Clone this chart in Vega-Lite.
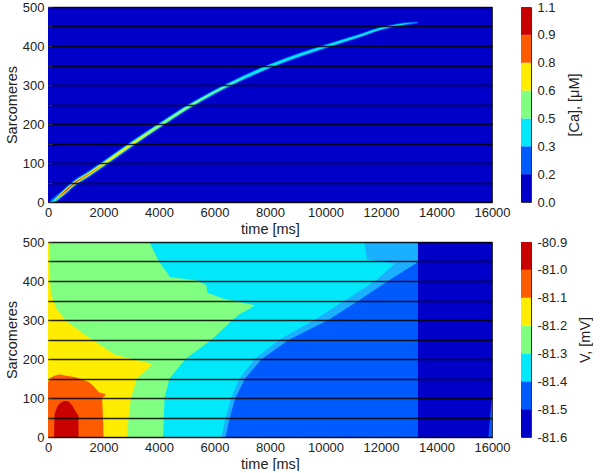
{
  "$schema": "https://vega.github.io/schema/vega-lite/v6.json",
  "padding": {"left": 3, "top": 0, "right": 0, "bottom": 0},
  "spacing": -1,
  "datasets": {
    "ca": [
      {"g":0,"c":0,"x":0,"lo":0,"hi":500},{"g":0,"c":0,"x":16000,"lo":0,"hi":500},
      {"g":1,"c":1,"x":50,"lo":0,"hi":1},{"g":1,"c":1,"x":100,"lo":0,"hi":5},{"g":1,"c":1,"x":200,"lo":0,"hi":12},
      {"g":1,"c":1,"x":500,"lo":11,"hi":29},{"g":1,"c":1,"x":950,"lo":39,"hi":57},{"g":1,"c":1,"x":1500,"lo":64,"hi":82},
      {"g":1,"c":1,"x":2050,"lo":91,"hi":109},{"g":1,"c":1,"x":3050,"lo":141,"hi":159},{"g":1,"c":1,"x":4100,"lo":192,"hi":208},
      {"g":1,"c":1,"x":5200,"lo":243,"hi":257},{"g":1,"c":1,"x":6500,"lo":293.5,"hi":306.5},{"g":1,"c":1,"x":8050,"lo":344,"hi":356},
      {"g":1,"c":1,"x":10050,"lo":394.5,"hi":405.5},{"g":1,"c":1,"x":11300,"lo":423,"hi":433},{"g":1,"c":1,"x":12000,"lo":440.5,"hi":449.5},
      {"g":1,"c":1,"x":12600,"lo":450,"hi":458},{"g":1,"c":1,"x":13000,"lo":454.5,"hi":461.5},{"g":1,"c":1,"x":13300,"lo":457.5,"hi":462.5},
      {"g":1,"c":1,"x":13350,"lo":460,"hi":460.5},
      {"g":2,"c":2,"x":100,"lo":0,"hi":0.5},{"g":2,"c":2,"x":200,"lo":0,"hi":6},{"g":2,"c":2,"x":500,"lo":14,"hi":26},
      {"g":2,"c":2,"x":950,"lo":42,"hi":54},{"g":2,"c":2,"x":1500,"lo":67,"hi":79},{"g":2,"c":2,"x":2050,"lo":94,"hi":106},
      {"g":2,"c":2,"x":3050,"lo":144,"hi":156},{"g":2,"c":2,"x":4100,"lo":195,"hi":205},{"g":2,"c":2,"x":5200,"lo":245.5,"hi":254.5},
      {"g":2,"c":2,"x":6500,"lo":296,"hi":304},{"g":2,"c":2,"x":8050,"lo":346,"hi":354},{"g":2,"c":2,"x":10050,"lo":396.5,"hi":403.5},
      {"g":2,"c":2,"x":11300,"lo":425,"hi":431},{"g":2,"c":2,"x":12000,"lo":442.5,"hi":447.5},{"g":2,"c":2,"x":12600,"lo":452,"hi":456},
      {"g":2,"c":2,"x":13000,"lo":456.8,"hi":459.2},{"g":2,"c":2,"x":13300,"lo":460,"hi":460.2},
      {"g":3,"c":3,"x":200,"lo":3,"hi":3.2},{"g":3,"c":3,"x":500,"lo":15.5,"hi":24.5},{"g":3,"c":3,"x":950,"lo":43.5,"hi":52.5},
      {"g":3,"c":3,"x":1500,"lo":68.5,"hi":77.5},{"g":3,"c":3,"x":2050,"lo":95.5,"hi":104.5},{"g":3,"c":3,"x":3050,"lo":145.5,"hi":154.5},
      {"g":3,"c":3,"x":4100,"lo":196,"hi":204},{"g":3,"c":3,"x":5200,"lo":247,"hi":253},{"g":3,"c":3,"x":6500,"lo":298.5,"hi":301.5},
      {"g":3,"c":3,"x":7200,"lo":323,"hi":323.2},
      {"g":4,"c":4,"x":300,"lo":8,"hi":8.2},{"g":4,"c":4,"x":500,"lo":17,"hi":23},{"g":4,"c":4,"x":950,"lo":45,"hi":51},
      {"g":4,"c":4,"x":1500,"lo":70,"hi":76},{"g":4,"c":4,"x":2050,"lo":97,"hi":103},{"g":4,"c":4,"x":3050,"lo":147.5,"hi":152.5},
      {"g":4,"c":4,"x":3500,"lo":169.5,"hi":172.5},{"g":4,"c":4,"x":4100,"lo":200,"hi":200.2},
      {"g":5,"c":5,"x":300,"lo":8,"hi":8.2},{"g":5,"c":5,"x":500,"lo":18.2,"hi":21.8},{"g":5,"c":5,"x":950,"lo":46,"hi":50},
      {"g":5,"c":5,"x":1500,"lo":71.5,"hi":74.5},{"g":5,"c":5,"x":2050,"lo":100,"hi":100.2},
      {"g":6,"c":6,"x":500,"lo":20,"hi":20.1},{"g":6,"c":6,"x":700,"lo":31.2,"hi":32.8},{"g":6,"c":6,"x":950,"lo":47.2,"hi":48.8},
      {"g":6,"c":6,"x":1200,"lo":60,"hi":60.1}
    ],
    "v": [
      {"g":0,"c":0,"y":0,"xl":0,"xr":16000},{"g":0,"c":0,"y":500,"xl":0,"xr":16000},
      {"g":1,"c":1,"y":0,"xl":0,"xr":13330},{"g":1,"c":1,"y":500,"xl":0,"xr":13330},
      {"g":2,"c":1,"y":0,"xl":15870,"xr":16000},{"g":2,"c":1,"y":50,"xl":15930,"xr":16000},{"g":2,"c":1,"y":100,"xl":15995,"xr":16000},
      {"g":3,"c":7,"y":0,"xl":0,"xr":6400},{"g":3,"c":7,"y":50,"xl":0,"xr":6550},{"g":3,"c":7,"y":100,"xl":0,"xr":6750},
      {"g":3,"c":7,"y":150,"xl":0,"xr":7100},{"g":3,"c":7,"y":200,"xl":0,"xr":7700},{"g":3,"c":7,"y":250,"xl":0,"xr":8700},
      {"g":3,"c":7,"y":300,"xl":0,"xr":10100},{"g":3,"c":7,"y":350,"xl":0,"xr":11200},{"g":3,"c":7,"y":400,"xl":0,"xr":12250},
      {"g":3,"c":7,"y":445,"xl":0,"xr":13250},{"g":3,"c":7,"y":450,"xl":0,"xr":13330},{"g":3,"c":7,"y":500,"xl":0,"xr":13330},
      {"g":4,"c":2,"y":0,"xl":0,"xr":6250},{"g":4,"c":2,"y":50,"xl":0,"xr":6400},{"g":4,"c":2,"y":100,"xl":0,"xr":6600},
      {"g":4,"c":2,"y":150,"xl":0,"xr":6900},{"g":4,"c":2,"y":200,"xl":0,"xr":7450},{"g":4,"c":2,"y":250,"xl":0,"xr":8350},
      {"g":4,"c":2,"y":300,"xl":0,"xr":9600},{"g":4,"c":2,"y":350,"xl":0,"xr":10700},{"g":4,"c":2,"y":400,"xl":0,"xr":11800},
      {"g":4,"c":2,"y":445,"xl":0,"xr":12500},{"g":4,"c":2,"y":455,"xl":0,"xr":11500},{"g":4,"c":2,"y":500,"xl":0,"xr":11400},
      {"g":5,"c":3,"y":0,"xl":0,"xr":4150},{"g":5,"c":3,"y":100,"xl":0,"xr":4200},{"g":5,"c":3,"y":150,"xl":0,"xr":4380},
      {"g":5,"c":3,"y":200,"xl":0,"xr":4950},{"g":5,"c":3,"y":250,"xl":0,"xr":5900},{"g":5,"c":3,"y":300,"xl":0,"xr":6650},
      {"g":5,"c":3,"y":315,"xl":0,"xr":6900},{"g":5,"c":3,"y":330,"xl":0,"xr":7300},{"g":5,"c":3,"y":338,"xl":0,"xr":7450},
      {"g":5,"c":3,"y":345,"xl":0,"xr":7000},{"g":5,"c":3,"y":355,"xl":0,"xr":6300},{"g":5,"c":3,"y":370,"xl":0,"xr":5750},
      {"g":5,"c":3,"y":390,"xl":0,"xr":5700},{"g":5,"c":3,"y":397,"xl":0,"xr":5500},{"g":5,"c":3,"y":402,"xl":0,"xr":5300},
      {"g":5,"c":3,"y":410,"xl":0,"xr":4400},{"g":5,"c":3,"y":450,"xl":0,"xr":4000},{"g":5,"c":3,"y":500,"xl":0,"xr":3650},
      {"g":6,"c":4,"y":0,"xl":0,"xr":2850},{"g":6,"c":4,"y":50,"xl":0,"xr":2900},{"g":6,"c":4,"y":100,"xl":0,"xr":2990},
      {"g":6,"c":4,"y":150,"xl":0,"xr":3200},{"g":6,"c":4,"y":175,"xl":0,"xr":3600},{"g":6,"c":4,"y":185,"xl":0,"xr":3750},
      {"g":6,"c":4,"y":192,"xl":0,"xr":3500},{"g":6,"c":4,"y":210,"xl":0,"xr":2430},{"g":6,"c":4,"y":261,"xl":0,"xr":1350},
      {"g":6,"c":4,"y":299,"xl":0,"xr":630},{"g":6,"c":4,"y":330,"xl":0,"xr":300},{"g":6,"c":4,"y":368,"xl":0,"xr":100},
      {"g":6,"c":4,"y":400,"xl":0,"xr":80},{"g":6,"c":4,"y":500,"xl":0,"xr":60},
      {"g":7,"c":5,"y":0,"xl":0,"xr":2000},{"g":7,"c":5,"y":50,"xl":0,"xr":1980},{"g":7,"c":5,"y":100,"xl":0,"xr":1950},
      {"g":7,"c":5,"y":105,"xl":0,"xr":2050},{"g":7,"c":5,"y":110,"xl":0,"xr":2070},{"g":7,"c":5,"y":115,"xl":0,"xr":1830},
      {"g":7,"c":5,"y":130,"xl":0,"xr":1650},{"g":7,"c":5,"y":141,"xl":0,"xr":1470},{"g":7,"c":5,"y":148,"xl":60,"xr":1200},
      {"g":7,"c":5,"y":153,"xl":120,"xr":1000},{"g":7,"c":5,"y":158,"xl":250,"xr":600},{"g":7,"c":5,"y":160,"xl":400,"xr":450},
      {"g":8,"c":6,"y":0,"xl":220,"xr":1100},{"g":8,"c":6,"y":55,"xl":230,"xr":1100},{"g":8,"c":6,"y":65,"xl":260,"xr":1000},
      {"g":8,"c":6,"y":80,"xl":350,"xr":880},{"g":8,"c":6,"y":90,"xl":480,"xr":760},{"g":8,"c":6,"y":92,"xl":600,"xr":700}
    ],
    "cbca": [
      {"lo":0,"hi":0.15714,"c":0},{"lo":0.15714,"hi":0.31429,"c":1},{"lo":0.31429,"hi":0.47143,"c":2},
      {"lo":0.47143,"hi":0.62857,"c":3},{"lo":0.62857,"hi":0.78571,"c":4},{"lo":0.78571,"hi":0.94286,"c":5},
      {"lo":0.94286,"hi":1.1,"c":6}
    ],
    "cbv": [
      {"lo":-81.6,"hi":-81.5,"c":0},{"lo":-81.5,"hi":-81.4,"c":1},{"lo":-81.4,"hi":-81.3,"c":2},
      {"lo":-81.3,"hi":-81.2,"c":3},{"lo":-81.2,"hi":-81.1,"c":4},{"lo":-81.1,"hi":-81.0,"c":5},
      {"lo":-81.0,"hi":-80.9,"c":6}
    ]
  },
  "vconcat": [
    {
      "bounds": "flush",
      "spacing": 29,
      "hconcat": [
        {
          "width": 444, "height": 195,
          "data": {"name": "ca"},
          "encoding": {
            "x": {"field":"x","type":"quantitative","scale":{"domain":[0,16000],"nice":false,"zero":false},
                  "axis":{"values":[0,2000,4000,6000,8000,10000,12000,14000,16000],"format":"d","title":"time [ms]","labelFlush":false,"labelOverlap":false}},
            "y": {"field":"lo","type":"quantitative","scale":{"domain":[0,500],"nice":false},
                  "axis":{"values":[0,50,100,150,200,250,300,350,400,450,500],"labelExpr":"datum.value % 100 == 0 ? datum.label : ''",
                          "title":"Sarcomeres","labelFlush":false,"labelOverlap":false,"grid":true,"zindex":1}},
            "y2": {"field":"hi"},
            "color": {"field":"c","type":"nominal","legend":null,
                      "scale":{"domain":[0,1,2,3,4,5,6,7],"range":["#0000C8","#005BFF","#00E8FA","#80FF80","#FFED00","#FF5B00","#C80000","#1AB0FF"]}}
          },
          "layer": [
            {"transform":[{"filter":"datum.g==0"}],"mark":{"type":"area","orient":"vertical"}},
            {"transform":[{"filter":"datum.g==1"}],"mark":{"type":"area","orient":"vertical","interpolate":"monotone"}},
            {"transform":[{"filter":"datum.g==2"}],"mark":{"type":"area","orient":"vertical","interpolate":"monotone"}},
            {"transform":[{"filter":"datum.g==3"}],"mark":{"type":"area","orient":"vertical","interpolate":"monotone"}},
            {"transform":[{"filter":"datum.g==4"}],"mark":{"type":"area","orient":"vertical","interpolate":"monotone"}},
            {"transform":[{"filter":"datum.g==5"}],"mark":{"type":"area","orient":"vertical","interpolate":"monotone"}},
            {"transform":[{"filter":"datum.g==6"}],"mark":{"type":"area","orient":"vertical","interpolate":"monotone"}}
          ]
        },
        {
          "width": 10, "height": 195,
          "data": {"name": "cbca"},
          "mark": "rect",
          "encoding": {
            "y": {"field":"lo","type":"quantitative","scale":{"domain":[0,1.1],"nice":false,"zero":false},
                  "axis":{"orient":"right","values":[0,0.15714,0.31429,0.47143,0.62857,0.78571,0.94286,1.1],"format":".1f",
                          "title":"[Ca], [μM]","titleAngle":270,"titleBaseline":"top","ticks":false,"labelPadding":6,"titlePadding":12,
                          "labelFlush":false,"labelOverlap":false,"grid":false}},
            "y2": {"field":"hi"},
            "color": {"field":"c","type":"nominal","legend":null}
          }
        }
      ]
    },
    {
      "bounds": "flush",
      "spacing": 29,
      "hconcat": [
        {
          "width": 444, "height": 195,
          "data": {"name": "v"},
          "encoding": {
            "y": {"field":"y","type":"quantitative","scale":{"domain":[0,500],"nice":false},
                  "axis":{"values":[0,50,100,150,200,250,300,350,400,450,500],"labelExpr":"datum.value % 100 == 0 ? datum.label : ''",
                          "title":"Sarcomeres","labelFlush":false,"labelOverlap":false,"grid":true,"zindex":1}},
            "x": {"field":"xl","type":"quantitative","scale":{"domain":[0,16000],"nice":false,"zero":false},
                  "axis":{"values":[0,2000,4000,6000,8000,10000,12000,14000,16000],"format":"d","title":"time [ms]","labelFlush":false,"labelOverlap":false}},
            "x2": {"field":"xr"},
            "color": {"field":"c","type":"nominal","legend":null}
          },
          "layer": [
            {"transform":[{"filter":"datum.g==0"}],"mark":{"type":"area","orient":"horizontal"}},
            {"transform":[{"filter":"datum.g==1"}],"mark":{"type":"area","orient":"horizontal"}},
            {"transform":[{"filter":"datum.g==2"}],"mark":{"type":"area","orient":"horizontal"}},
            {"transform":[{"filter":"datum.g==3"}],"mark":{"type":"area","orient":"horizontal"}},
            {"transform":[{"filter":"datum.g==4"}],"mark":{"type":"area","orient":"horizontal"}},
            {"transform":[{"filter":"datum.g==5"}],"mark":{"type":"area","orient":"horizontal"}},
            {"transform":[{"filter":"datum.g==6"}],"mark":{"type":"area","orient":"horizontal"}},
            {"transform":[{"filter":"datum.g==7"}],"mark":{"type":"area","orient":"horizontal"}},
            {"transform":[{"filter":"datum.g==8"}],"mark":{"type":"area","orient":"horizontal"}}
          ]
        },
        {
          "width": 10, "height": 195,
          "data": {"name": "cbv"},
          "mark": "rect",
          "encoding": {
            "y": {"field":"lo","type":"quantitative","scale":{"domain":[-81.6,-80.9],"nice":false,"zero":false},
                  "axis":{"orient":"right","values":[-81.6,-81.5,-81.4,-81.3,-81.2,-81.1,-81.0,-80.9],
                          "labelExpr":"replace(format(datum.value, '.1f'), '\u2212', '-')",
                          "title":"V, [mV]","titleAngle":270,"titleBaseline":"top","ticks":false,"labelPadding":6,"titlePadding":12,
                          "labelFlush":false,"labelOverlap":false,"grid":false}},
            "y2": {"field":"hi"},
            "color": {"field":"c","type":"nominal","legend":null}
          }
        }
      ]
    }
  ],
  "config": {
    "font": "Liberation Sans",
    "view": {"stroke": "#333", "strokeWidth": 1},
    "axis": {
      "labelFont": "Liberation Sans", "labelFontSize": 13, "labelColor": "#222",
      "titleFont": "Liberation Sans", "titleFontSize": 14.5, "titleFontWeight": "normal", "titleColor": "#222",
      "domain": false, "grid": false, "ticks": true, "tickSize": -4, "tickColor": "#333", "labelPadding": 8, "titlePadding": 3,
      "gridColor": "#000", "gridOpacity": 0.85, "gridWidth": 1.4
    }
  }
}
